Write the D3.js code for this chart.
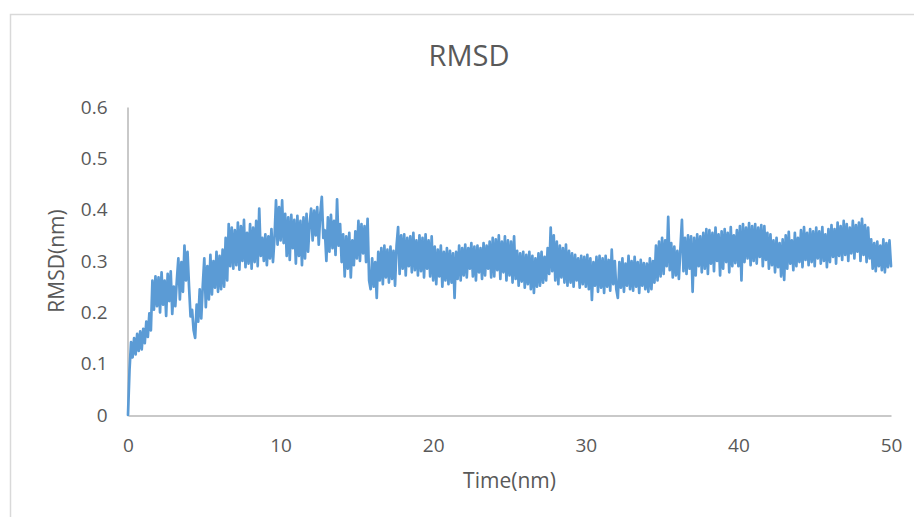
<!DOCTYPE html>
<html>
<head>
<meta charset="utf-8">
<script src="https://cdn.jsdelivr.net/npm/d3@7"></script>
<style>
    html, body { margin: 0; padding: 0; background: #ffffff; }
    svg { display: block; }
    text { font-family: "Open Sans", "DejaVu Sans", sans-serif; fill: #595959; }
</style>
</head>
<body>
<div id="graph"></div>
<script>
/* RMSD trace: one value every 0.1 ns */
var timeStep = 0.1;

var rmsd00to10 = [
    0, 0.088, 0.142, 0.112, 0.150, 0.118, 0.158, 0.125, 0.163, 0.128,
    0.168, 0.140, 0.182, 0.152, 0.198, 0.165, 0.262, 0.205, 0.270, 0.212,
    0.268, 0.200, 0.278, 0.215, 0.262, 0.193, 0.275, 0.222, 0.280, 0.197,
    0.250, 0.212, 0.262, 0.305, 0.225, 0.298, 0.240, 0.330, 0.262, 0.318,
    0.250, 0.192, 0.205, 0.165, 0.150, 0.215, 0.182, 0.245, 0.188, 0.252,
    0.305, 0.210, 0.290, 0.225, 0.312, 0.235, 0.300, 0.248, 0.318, 0.240,
    0.310, 0.245, 0.322, 0.250, 0.345, 0.262, 0.372, 0.290, 0.365, 0.285,
    0.360, 0.292, 0.375, 0.283, 0.368, 0.300, 0.380, 0.288, 0.355, 0.295,
    0.372, 0.285, 0.365, 0.298, 0.378, 0.290, 0.402, 0.310, 0.345, 0.300,
    0.352, 0.292, 0.348, 0.305, 0.362, 0.298, 0.345, 0.418, 0.332, 0.405
];

var rmsd10to20 = [
    0.340, 0.418, 0.335, 0.392, 0.310, 0.385, 0.302, 0.390, 0.325, 0.380,
    0.295, 0.388, 0.310, 0.378, 0.292, 0.385, 0.305, 0.392, 0.318, 0.372,
    0.402, 0.340, 0.398, 0.350, 0.405, 0.332, 0.392, 0.425, 0.345, 0.360,
    0.300, 0.385, 0.318, 0.390, 0.325, 0.378, 0.312, 0.420, 0.330, 0.372,
    0.298, 0.352, 0.270, 0.348, 0.285, 0.355, 0.268, 0.340, 0.292, 0.358,
    0.305, 0.378, 0.300, 0.372, 0.315, 0.368, 0.298, 0.382, 0.262, 0.245,
    0.305, 0.250, 0.298, 0.228, 0.318, 0.262, 0.325, 0.255, 0.330, 0.268,
    0.322, 0.258, 0.328, 0.265, 0.320, 0.252, 0.330, 0.366, 0.275, 0.350,
    0.285, 0.352, 0.272, 0.345, 0.290, 0.348, 0.278, 0.355, 0.282, 0.340,
    0.272, 0.350, 0.280, 0.345, 0.268, 0.352, 0.285, 0.340, 0.270, 0.348
];

var rmsd20to30 = [
    0.262, 0.328, 0.255, 0.322, 0.270, 0.330, 0.250, 0.318, 0.262, 0.325,
    0.255, 0.320, 0.258, 0.315, 0.228, 0.318, 0.265, 0.330, 0.262, 0.325,
    0.272, 0.332, 0.268, 0.325, 0.285, 0.335, 0.270, 0.328, 0.262, 0.330,
    0.278, 0.325, 0.265, 0.335, 0.272, 0.330, 0.285, 0.338, 0.268, 0.345,
    0.270, 0.342, 0.282, 0.350, 0.265, 0.338, 0.278, 0.348, 0.262, 0.340,
    0.272, 0.338, 0.258, 0.348, 0.265, 0.320, 0.252, 0.315, 0.260, 0.318,
    0.248, 0.312, 0.255, 0.318, 0.245, 0.310, 0.238, 0.305, 0.250, 0.315,
    0.252, 0.318, 0.258, 0.308, 0.262, 0.325, 0.275, 0.365, 0.280, 0.350,
    0.262, 0.338, 0.255, 0.330, 0.268, 0.325, 0.258, 0.332, 0.252, 0.320,
    0.258, 0.315, 0.250, 0.312, 0.262, 0.305, 0.248, 0.310, 0.255, 0.308
];

var rmsd30to40 = [
    0.250, 0.312, 0.245, 0.305, 0.224, 0.298, 0.252, 0.308, 0.240, 0.310,
    0.248, 0.305, 0.238, 0.310, 0.250, 0.302, 0.242, 0.322, 0.255, 0.300,
    0.245, 0.228, 0.298, 0.248, 0.305, 0.240, 0.295, 0.252, 0.310, 0.245,
    0.300, 0.242, 0.308, 0.250, 0.298, 0.238, 0.302, 0.252, 0.296, 0.245,
    0.295, 0.240, 0.305, 0.245, 0.300, 0.258, 0.330, 0.262, 0.338, 0.270,
    0.345, 0.275, 0.340, 0.290, 0.386, 0.282, 0.335, 0.268, 0.328, 0.272,
    0.320, 0.265, 0.325, 0.380, 0.280, 0.345, 0.275, 0.350, 0.285, 0.348,
    0.240, 0.345, 0.272, 0.352, 0.290, 0.348, 0.278, 0.355, 0.285, 0.362,
    0.275, 0.360, 0.295, 0.355, 0.280, 0.365, 0.300, 0.352, 0.272, 0.358,
    0.285, 0.362, 0.298, 0.355, 0.278, 0.366, 0.290, 0.350, 0.296, 0.360
];

var rmsd40to50 = [
    0.290, 0.368, 0.262, 0.372, 0.298, 0.365, 0.305, 0.374, 0.292, 0.368,
    0.300, 0.372, 0.295, 0.365, 0.308, 0.370, 0.290, 0.368, 0.302, 0.355,
    0.285, 0.352, 0.292, 0.340, 0.278, 0.345, 0.288, 0.335, 0.270, 0.342,
    0.263, 0.350, 0.285, 0.357, 0.295, 0.340, 0.282, 0.355, 0.290, 0.345,
    0.298, 0.360, 0.288, 0.366, 0.302, 0.355, 0.292, 0.362, 0.298, 0.358,
    0.290, 0.365, 0.305, 0.358, 0.295, 0.366, 0.300, 0.352, 0.288, 0.362,
    0.298, 0.370, 0.308, 0.362, 0.295, 0.375, 0.310, 0.368, 0.302, 0.378,
    0.312, 0.372, 0.300, 0.365, 0.315, 0.378, 0.305, 0.370, 0.318, 0.375,
    0.300, 0.382, 0.312, 0.370, 0.298, 0.365, 0.305, 0.342, 0.285, 0.335,
    0.280, 0.338, 0.290, 0.330, 0.282, 0.342, 0.278, 0.335, 0.288, 0.340,
    0.290
];

var xTicks = [0, 10, 20, 30, 40, 50];
var yTicks = [0, 0.1, 0.2, 0.3, 0.4, 0.5, 0.6];
var yTickLabels = ["0", "0.1", "0.2", "0.3", "0.4", "0.5", "0.6"];

var chartTitle = "RMSD";
var xTitle = "Time(nm)";
var yTitle = "RMSD(nm)";

window.onload = (function(){

    var WIDTH = 914;
    var HEIGHT = 517;
    var PLOT = {left: 128, right: 891, top: 107, bottom: 415};
    var LINE_COLOR = "#5b9bd5";
    var AXIS_COLOR = "#c9c9c9";

    function buildSeries(){
        /**
         * Glues the segments together and pairs every value with its time.
         * @return {array} points - [{t, v}] for the whole run.
         */
        var values = [].concat(rmsd00to10, rmsd10to20, rmsd20to30, rmsd30to40, rmsd40to50);
        return values.map(function(v, i){
            return {t: +(i * timeStep).toFixed(2), v: v};
        });
    }

    var svg = d3.select("#graph")
        .append("svg")
        .attr("width", WIDTH)
        .attr("height", HEIGHT);

    // chart frame, runs off the right and bottom of the window like the original
    svg.append("rect")
        .attr("x", 10.5)
        .attr("y", 14.5)
        .attr("width", 930)
        .attr("height", 530)
        .attr("fill", "#ffffff")
        .attr("stroke", "#d9d9d9")
        .attr("stroke-width", 1.5);

    var x = d3.scaleLinear().domain([0, 50]).range([PLOT.left, PLOT.right]);
    var y = d3.scaleLinear().domain([0, 0.6]).range([PLOT.bottom, PLOT.top]);

    var yAxis = d3.axisLeft(y)
        .tickValues(yTicks)
        .tickFormat(function(d, i){ return yTickLabels[i]; })
        .tickSize(0)
        .tickPadding(20);

    var xAxis = d3.axisBottom(x)
        .tickValues(xTicks)
        .tickSize(0)
        .tickPadding(23);

    var gy = svg.append("g")
        .attr("transform", "translate(" + (PLOT.left - 0.5) + ",0)")
        .call(yAxis);
    var gx = svg.append("g")
        .attr("transform", "translate(0," + (PLOT.bottom + 0.5) + ")")
        .call(xAxis);

    [gx, gy].forEach(function(g){
        g.select(".domain").attr("stroke", AXIS_COLOR).attr("stroke-width", 2);
        g.selectAll(".tick text")
            .attr("fill", "#595959")
            .style("font-family", "'Open Sans', sans-serif")
            .style("font-size", "19px");
    });

    var line = d3.line()
        .x(function(d){ return x(d.t); })
        .y(function(d){ return y(d.v); });

    svg.append("path")
        .datum(buildSeries())
        .attr("d", line)
        .attr("fill", "none")
        .attr("stroke", LINE_COLOR)
        .attr("stroke-width", 2.7)
        .attr("stroke-linejoin", "round")
        .attr("stroke-linecap", "round");

    svg.append("text")
        .attr("x", 469)
        .attr("y", 66)
        .attr("text-anchor", "middle")
        .style("font-size", "29px")
        .text(chartTitle);

    svg.append("text")
        .attr("x", (PLOT.left + PLOT.right) / 2)
        .attr("y", 488)
        .attr("text-anchor", "middle")
        .style("font-size", "21px")
        .text(xTitle);

    svg.append("text")
        .attr("transform", "translate(64," + ((PLOT.top + PLOT.bottom) / 2) + ") rotate(-90)")
        .attr("text-anchor", "middle")
        .style("font-size", "21px")
        .text(yTitle);
});
</script>
</body>
</html>
